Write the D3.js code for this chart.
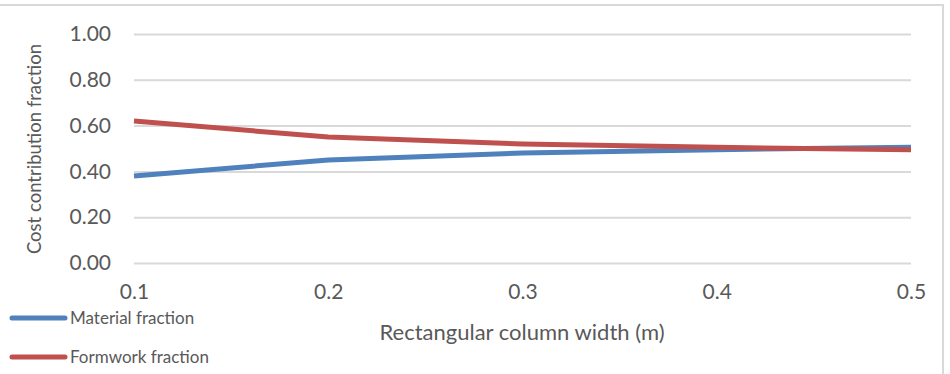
<!DOCTYPE html>
<html>
<head>
<meta charset="utf-8">
<script src="https://cdn.jsdelivr.net/npm/d3@7"></script>
<style>
  body { margin: 0; background: #fff; }
  text { font-family: Lato, "Open Sans", sans-serif; fill: #595959; }
</style>
</head>
<body>
<div id="chart"></div>
<script>
// Data
const widths = [0.1, 0.2, 0.3, 0.4, 0.5];
const materialFraction = [0.38, 0.45, 0.48, 0.495, 0.505];
const formworkFraction = [0.62, 0.55, 0.52, 0.505, 0.495];
const yTicks = [0, 0.2, 0.4, 0.6, 0.8, 1.0];
const seriesNames = ["Material fraction", "Formwork fraction"];
const seriesColors = ["#4F81BD", "#C0504D"];

const width = 950, height = 374;
const padding = {top: 34, right: 39, bottom: 111, left: 134};

const svg = d3.select("#chart").append("svg")
    .attr("width", width)
    .attr("height", height);

// Outer chart border (only top and right visible in the picture)
svg.append("rect")
    .attr("x", -10).attr("y", 5)
    .attr("width", 953).attr("height", 400)
    .attr("fill", "none")
    .attr("stroke", "#D9D9D9")
    .attr("stroke-width", 2);

const xScale = d3.scaleLinear()
    .domain([0.1, 0.5])
    .range([padding.left, width - padding.right]);

const yScale = d3.scaleLinear()
    .domain([0, 1])
    .range([height - padding.bottom, padding.top]);

// Gridlines + y tick labels
const yAxis = svg.append("g")
    .attr("transform", "translate(" + padding.left + ",0)")
    .call(d3.axisLeft(yScale)
        .tickValues(yTicks)
        .tickSize(-(width - padding.left - padding.right))
        .tickPadding(23)
        .tickFormat(d3.format(".2f")));
yAxis.select(".domain").remove();
yAxis.selectAll("line").attr("stroke", "#D9D9D9").attr("stroke-width", 2);
yAxis.selectAll("text").style("font-size", "21px").attr("fill", "#595959");

// x tick labels
const xAxis = svg.append("g")
    .attr("transform", "translate(0," + (height - padding.bottom) + ")")
    .call(d3.axisBottom(xScale).tickValues(widths).tickSize(0).tickPadding(21)
        .tickFormat(d3.format(".1f")));
xAxis.select(".domain").remove();
xAxis.selectAll("text").style("font-size", "21px").attr("fill", "#595959");

// Lines
const series = [materialFraction, formworkFraction];
const line = d3.line()
    .x((d, i) => xScale(widths[i]))
    .y(d => yScale(d));

series.forEach((s, k) => {
    svg.append("path")
        .datum(s)
        .attr("fill", "none")
        .attr("stroke", seriesColors[k])
        .attr("stroke-width", 5)
        .attr("stroke-linejoin", "round")
        .attr("d", line);
});

// Axis titles
svg.append("text")
    .attr("x", 522)
    .attr("y", 332)
    .attr("dy", "0.35em")
    .style("text-anchor", "middle")
    .style("font-size", "22px")
    .text("Rectangular column width (m)");

svg.append("text")
    .attr("transform", "translate(35," + 149 + ") rotate(-90)")
    .attr("dy", "0.35em")
    .style("text-anchor", "middle")
    .style("font-size", "18.5px")
    .text("Cost contribution fraction");

// Legend
const legendY = [318, 357];
seriesNames.forEach((name, k) => {
    svg.append("line")
        .attr("x1", 12).attr("x2", 65)
        .attr("y1", legendY[k]).attr("y2", legendY[k])
        .attr("stroke", seriesColors[k])
        .attr("stroke-width", 5)
        .attr("stroke-linecap", "round");
    svg.append("text")
        .attr("x", 70)
        .attr("y", legendY[k])
        .attr("dy", "0.35em")
        .style("font-size", "17px")
        .text(name);
});
</script>
</body>
</html>
